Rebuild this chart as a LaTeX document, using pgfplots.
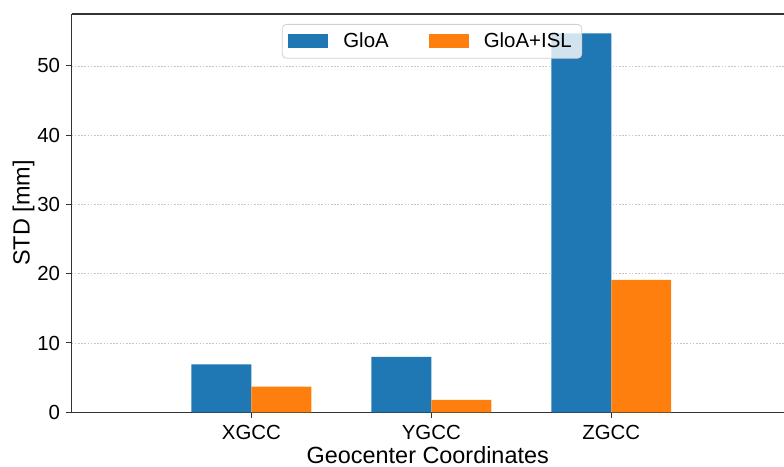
\documentclass[border=0pt]{standalone}
\usepackage{fontspec}
\setmainfont{Liberation Sans}
\usepackage{pgfplots}
\pgfplotsset{compat=1.18}
\definecolor{mplblue}{HTML}{1F77B4}
\definecolor{mplorange}{HTML}{FF7F0E}
\begin{document}
\begin{tikzpicture}
\begin{axis}[
  name=ax,
  scale only axis,
  width=356pt, height=199pt,
  ybar=0pt, bar width=0.3333,
  xmin=-1, xmax=2.96,
  ymin=0, ymax=57.5,
  xtick={0,1,2}, xticklabels={XGCC,YGCC,ZGCC},
  ytick={0,10,20,30,40,50},
  axis x line=box, axis y line=left,
  y axis line style={-},
  axis line style={line width=0.6pt, black!80},
  tick style={black!80, line width=0.5pt},
  tick align=outside, major tick length=3pt,
  xtick pos=bottom, ytick pos=left,
  ymajorgrids, 
  grid style={gray!45, line width=0.3pt, dash pattern=on 0.8pt off 0.8pt},
  ticklabel style={font=\fontsize{10.2}{12}\selectfont},
  yticklabel style={xshift=0.8pt},
  /pgf/number format/assume math mode=true,
  label style={font=\fontsize{11.7}{14}\selectfont},
  xlabel={Geocenter Coordinates},
  ylabel={STD [mm]},
  xlabel style={at={(axis description cs:0.5,0)}, anchor=base, yshift=-25.5pt, inner sep=0pt},
  ylabel style={at={(axis description cs:0,0.5)}, anchor=center, yshift=24pt, inner sep=0pt},
  legend columns=2,
  legend image code/.code={\fill[#1, sharp corners, fill opacity=1] (0pt,-3.5pt) rectangle (20pt,3.5pt);},
  legend style={at={(0.506,0.975)}, anchor=north, draw=black!18, rounded corners=2pt,
    fill=white, fill opacity=0.8, text opacity=1, font=\fontsize{10.2}{12}\selectfont,
    inner xsep=3pt, inner ysep=2pt,
    /tikz/every odd column/.append style={column sep=5.5pt},
    /tikz/every even column/.append style={column sep=18pt}},
]
\addplot[fill=mplblue, draw=none] coordinates {(0,6.9) (1,8.0) (2,54.7)};
\addplot[fill=mplorange, draw=none] coordinates {(0,3.7) (1,1.8) (2,19.1)};
\legend{GloA,GloA+ISL}
\end{axis}
\pgfresetboundingbox
\path[use as bounding box] ([xshift=-35.75pt,yshift=-27pt]ax.south west) rectangle ([yshift=7pt]ax.north east);
\end{tikzpicture}
\end{document}
